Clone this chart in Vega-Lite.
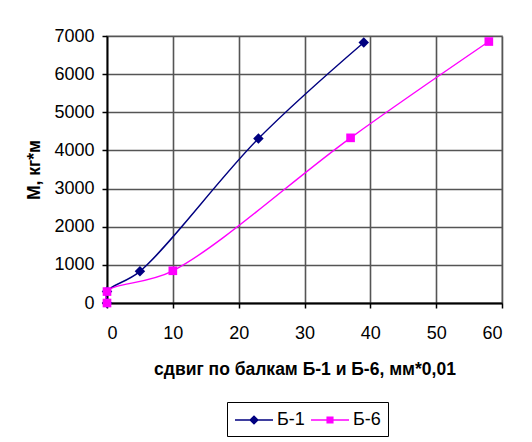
{
  "$schema": "https://vega.github.io/schema/vega-lite/v6.json",
  "width": 395,
  "height": 267,
  "autosize": {"type": "none"},
  "padding": {"left": 107, "top": 36, "right": 30, "bottom": 139},
  "background": "white",
  "config": {
    "font": "Liberation Sans",
    "view": {"stroke": "#c8c8c8", "strokeWidth": 2},
    "axis": {
      "labelFont": "Liberation Sans",
      "titleFont": "Liberation Sans",
      "labelFontSize": 18,
      "labelColor": "black",
      "titleColor": "black",
      "titleFontSize": 17.5,
      "titleFontWeight": "bold",
      "domainColor": "black",
      "domainWidth": 1.8,
      "tickColor": "black",
      "tickSize": 5,
      "tickWidth": 1.5,
      "gridColor": "#555555",
      "gridWidth": 1.6,
      "gridOpacity": 1
    }
  },
  "data": {
    "values": [
      {"s": "Б-1", "i": 0, "x": 0, "y": 0},
      {"s": "Б-1", "i": 1, "x": 0, "y": 300},
      {"s": "Б-1", "i": 2, "x": 5, "y": 830},
      {"s": "Б-1", "i": 3, "x": 23, "y": 4310},
      {"s": "Б-1", "i": 4, "x": 39, "y": 6830},
      {"s": "Б-6", "i": 0, "x": 0, "y": 0},
      {"s": "Б-6", "i": 1, "x": 0, "y": 300},
      {"s": "Б-6", "i": 2, "x": 10, "y": 845},
      {"s": "Б-6", "i": 3, "x": 37, "y": 4330},
      {"s": "Б-6", "i": 4, "x": 58, "y": 6855}
    ]
  },
  "encoding": {
    "x": {
      "field": "x", "type": "quantitative",
      "scale": {"domain": [0, 60], "nice": false},
      "axis": {"values": [0, 10, 20, 30, 40, 50, 60], "format": "d", "labelPadding": 16, "titlePadding": 18,
               "title": "сдвиг по балкам Б-1 и Б-6, мм*0,01"}
    },
    "y": {
      "field": "y", "type": "quantitative",
      "scale": {"domain": [0, 7000], "nice": false},
      "axis": {"values": [0, 1000, 2000, 3000, 4000, 5000, 6000, 7000], "format": "d", "labelPadding": 8, "titlePadding": 10,
               "title": "М, кг*м"}
    },
    "color": {
      "field": "s", "type": "nominal",
      "scale": {"domain": ["Б-1", "Б-6"], "range": ["#000080", "#ff00ff"]},
      "legend": {
        "title": null,
        "orient": "none",
        "legendX": 120,
        "legendY": 366,
        "direction": "horizontal",
        "strokeColor": "black",
        "fillColor": "white",
        "padding": 7,
        "labelFontSize": 18,
        "labelFont": "Liberation Sans",
        "labelColor": "black",
        "symbolSize": 400,
        "symbolStrokeWidth": 1.5,
        "symbolOpacity": 1,
        "symbolOffset": 9,
        "symbolType": "M-1.9,0H1.9M-0.38,0L0,-0.38L0.38,0L0,0.38Z",
        "labelOffset": 12,
        "columnPadding": 3,
        "encode": {
          "symbols": {
            "update": {
              "shape": {"signal": "datum.value === 'Б-1' ? 'M-1.9,0H1.9M-0.38,0L0,-0.38L0.38,0L0,0.38Z' : 'M-1.9,0H1.9M-0.28,-0.28H0.28V0.28H-0.28Z'"},
              "stroke": {"scale": "color", "field": "value"},
              "fill": {"scale": "color", "field": "value"},
              "strokeWidth": {"value": 1.5}
            }
          }
        }
      }
    }
  },
  "layer": [
    {
      "mark": {"type": "line", "interpolate": "catmull-rom", "strokeWidth": 1.4},
      "encoding": {"order": {"field": "i", "type": "quantitative"}}
    },
    {
      "transform": [{"filter": "datum.s === 'Б-1'"}],
      "mark": {"type": "point", "shape": "diamond", "filled": true, "opacity": 1, "size": 110}
    },
    {
      "transform": [{"filter": "datum.s === 'Б-6'"}],
      "mark": {"type": "point", "shape": "square", "filled": true, "opacity": 1, "size": 75}
    }
  ]
}
